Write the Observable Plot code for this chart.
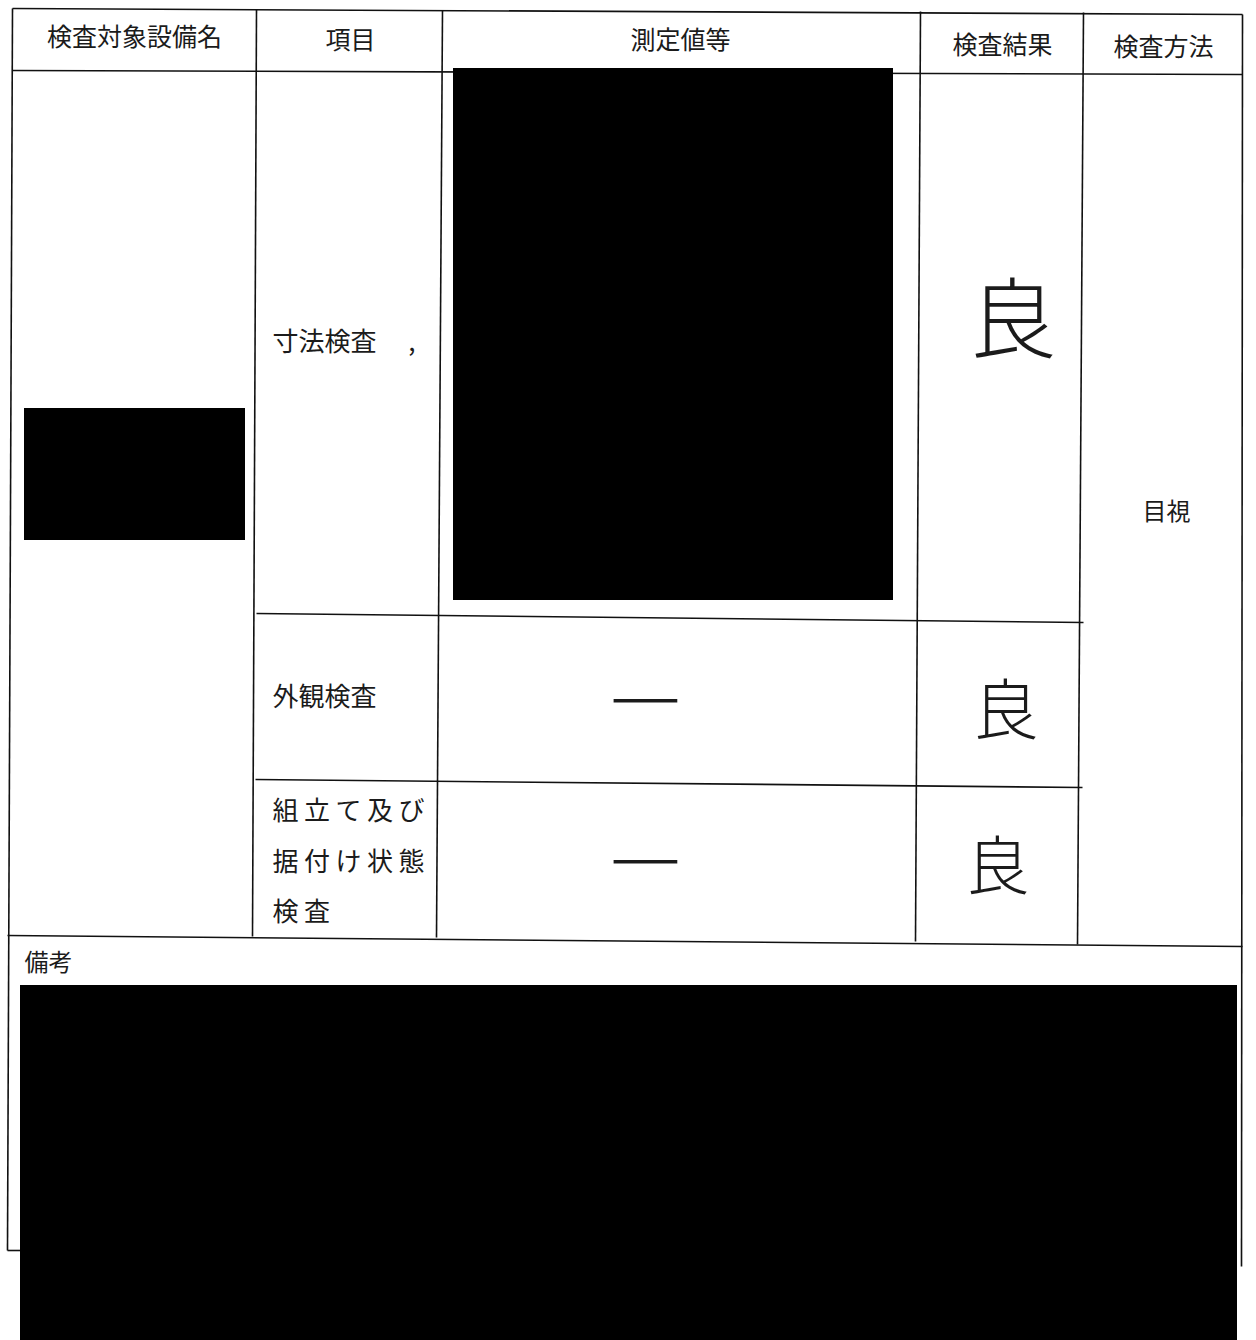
<!DOCTYPE html>
<html>
<head>
<meta charset="utf-8">
<script src="https://cdn.jsdelivr.net/npm/d3@7"></script>
<script src="https://cdn.jsdelivr.net/npm/@observablehq/plot@0.6"></script>
<style>
  html, body { margin: 0; padding: 0; background: #fff; }
  #chart svg { display: block; }
</style>
</head>
<body>
<div id="chart"></div>
<script>
// ---- data (table content) ----
const headers = ["検査対象設備名", "項目", "測定値等", "検査結果", "検査方法"];
const items = ["寸法検査\u3000 ,", "外観検査", "組立て及び\n据付け状態\n検査"];
const measurements = ["", "—", "—"];          // first value is redacted in the source
const results = ["良", "良", "良"];
const method = "目視";
const remarksLabel = "備考";
const redactions = ["検査対象設備名", "寸法検査 測定値", "備考"];

// ---- layout (positions of the scanned form, page pixels) ----
const layout = {
  grid: [
    // outer frame
    [12, 8, 1242, 14], [12, 8, 7, 1250], [1242, 14, 1241, 1266], [7, 1250, 20, 1250],
    // header bottom
    [12, 70, 1242, 74],
    // column separators (header through item rows)
    [256, 9, 252, 936], [442, 10, 436, 937], [920, 11, 915, 941], [1083, 12, 1077, 944],
    // item row separators (columns 2-4 only)
    [256, 613, 1083, 622], [255, 779, 1082, 787],
    // bottom of item rows / top of remarks
    [7, 935, 1242, 946]
  ],
  headerX: [134, 350, 680, 1002, 1163],
  headerY: [37, 40, 40, 45, 47],
  itemX: 272,
  itemY: [342, 697, 854],
  measureX: 645,
  measureY: [0, 697, 858],
  resultX: [1012, 1005, 997],
  resultY: [322, 712, 868],
  resultSize: [88, 66, 64],
  methodX: 1166, methodY: 512,
  remarksX: 24, remarksY: 963,
  boxes: [
    [24, 408, 245, 540],
    [453, 68, 893, 600],
    [20, 985, 1237, 1340]
  ]
};

const gridLines = layout.grid.map(([x1, y1, x2, y2]) => ({x1, y1, x2, y2}));
const headerRows = headers.map((label, i) => ({label, x: layout.headerX[i], y: layout.headerY[i]}));
const itemRows = items.map((label, i) => ({label, x: layout.itemX, y: layout.itemY[i]}));
const measureRows = measurements.map((label, i) => ({label, x: layout.measureX, y: layout.measureY[i]})).filter(d => d.label);
const resultRows = results.map((label, i) => ({label, x: layout.resultX[i], y: layout.resultY[i], size: layout.resultSize[i]}));
const boxRows = redactions.map((name, i) => {
  const [x1, y1, x2, y2] = layout.boxes[i];
  return {name, x1, y1, x2, y2};
});

const font = "'Noto Sans CJK JP', 'Noto Sans', sans-serif";
const ink = "#1b1b1b";

const chart = Plot.plot({
  width: 1256,
  height: 1340,
  margin: 0,
  x: {domain: [0, 1256], range: [0, 1256], axis: null},
  y: {domain: [0, 1340], range: [0, 1340], axis: null},
  style: {background: "#fff", fontFamily: font},
  marks: [
    Plot.link(gridLines, {x1: "x1", y1: "y1", x2: "x2", y2: "y2", stroke: "#111", strokeWidth: 1.6}),
    Plot.rect(boxRows, {x1: "x1", y1: "y1", x2: "x2", y2: "y2", fill: "#000"}),
    Plot.text(headerRows, {x: "x", y: "y", text: "label", fontSize: 25, fill: ink}),
    Plot.text(itemRows.slice(0, 2), {x: "x", y: "y", text: "label", fontSize: 26, fill: ink, textAnchor: "start"}),
    Plot.text(itemRows.slice(2), {x: "x", y: "y", text: "label", fontSize: 26, fill: ink, textAnchor: "start",
      lineHeight: 1.95}),
    Plot.text(measureRows, {x: "x", y: "y", text: "label", fontSize: 80, fill: ink, fontWeight: 200}),
    Plot.text(resultRows, {x: "x", y: "y", text: "label", fontSize: d => d.size, fill: ink, fontWeight: 200}),
    Plot.text([method], {x: layout.methodX, y: layout.methodY, text: d => d, fontSize: 24, fill: ink}),
    Plot.text([remarksLabel], {x: layout.remarksX, y: layout.remarksY, text: d => d, fontSize: 24, fill: ink, textAnchor: "start"})
  ]
});

// widen the character spacing of the three-line item label, as in the printed form
d3.select(chart).selectAll("text")
  .filter(function() { return this.textContent.includes(items[2].split("\n")[0]); })
  .style("letter-spacing", "5.5px");

document.getElementById("chart").appendChild(chart);
</script>
</body>
</html>
